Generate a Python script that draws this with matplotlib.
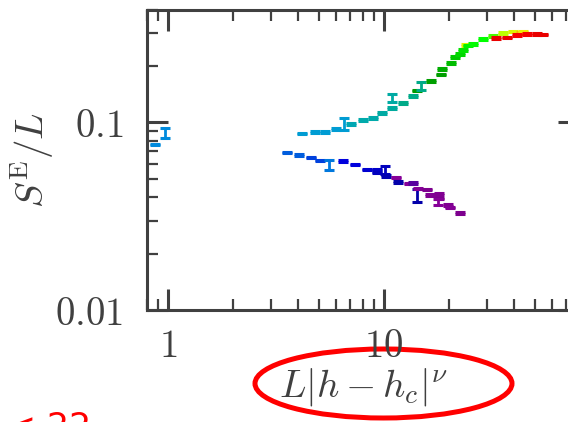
import matplotlib
matplotlib.use("Agg")
import matplotlib.pyplot as plt
from matplotlib.patches import Ellipse
from matplotlib.ticker import LogLocator, NullFormatter

plt.rcParams['mathtext.fontset'] = 'cm'

# upper branch (x, S/L, relative error, colour value)
x_up = [4.19, 4.80, 5.33, 5.97, 6.55, 7.01, 7.96, 8.93, 9.76, 10.9, 10.9, 12.2,
        13.6, 14.2, 14.9, 16.6, 18.4, 18.5, 20.4, 21.3, 22.5, 23.3, 24.0, 24.6,
        25.9, 28.8, 32.1, 35.7, 39.7, 43.0, 44.2,
        33.2, 37.0, 41.1, 45.8, 50.9, 54.6]
y_up = [0.0871, 0.0888, 0.0888, 0.0925, 0.0984, 0.0984, 0.1033, 0.1054, 0.112, 0.119, 0.1345, 0.1267,
        0.138, 0.148, 0.157, 0.166, 0.180, 0.193, 0.208, 0.223, 0.232, 0.244, 0.258, 0.257,
        0.262, 0.279, 0.290, 0.300, 0.305, 0.300, 0.306,
        0.282, 0.284, 0.293, 0.297, 0.297, 0.294]
e_up = [0.010, 0.010, 0.010, 0.010, 0.072, 0.010, 0.010, 0.010, 0.010, 0.010, 0.05, 0.010,
        0.010, 0.010, 0.05, 0.010, 0.010, 0.010, 0.010, 0.010, 0.010, 0.010, 0.010, 0.010,
        0.010, 0.010, 0.010, 0.010, 0.010, 0.010, 0.010,
        0.010, 0.010, 0.010, 0.010, 0.010, 0.010]
c_up = [0.31, 0.31, 0.31, 0.31, 0.31, 0.34, 0.35, 0.35, 0.36, 0.37, 0.36, 0.40,
        0.40, 0.45, 0.40, 0.46, 0.46, 0.48, 0.50, 0.52, 0.54, 0.56, 0.68, 0.58,
        0.59, 0.60, 0.62, 0.65, 0.68, 0.78, 0.70,
        0.88, 0.88, 0.86, 0.86, 0.88, 0.88]

# lower branch
x_lo = [3.54, 4.05, 4.58, 5.06, 5.58, 6.44, 7.34, 8.32, 9.25, 10.1, 9.3, 10.2,
        11.4, 11.6, 13.0, 13.7, 14.2, 14.4, 15.8, 16.3, 18.0, 18.0, 17.8, 19.9,
        20.2, 22.6]
y_lo = [0.0690, 0.0673, 0.0649, 0.0628, 0.0596, 0.0622, 0.0598, 0.0562, 0.0560, 0.0556, 0.0540, 0.0518,
        0.0508, 0.0481, 0.0472, 0.0475, 0.0409, 0.0444, 0.0438, 0.0409, 0.0414, 0.0393, 0.0377, 0.0362,
        0.0352, 0.0329]
e_lo = [0.010, 0.010, 0.010, 0.010, 0.06, 0.010, 0.010, 0.010, 0.010, 0.05, 0.010, 0.010,
        0.010, 0.010, 0.010, 0.010, 0.075, 0.010, 0.010, 0.010, 0.010, 0.010, 0.035, 0.010,
        0.010, 0.010]
c_lo = [0.24, 0.24, 0.23, 0.23, 0.25, 0.20, 0.20, 0.19, 0.18, 0.17, 0.17, 0.16,
        0.10, 0.15, 0.10, 0.12, 0.15, 0.09, 0.07, 0.08, 0.08, 0.07, 0.10, 0.08,
        0.09, 0.07]

# points near x = 1
x_left = [0.871, 0.969]
y_left = [0.0763, 0.0877]
e_left = [0.010, 0.06]
c_left = [0.28, 0.28]

xtick_vals = [1, 10]
xtick_labels = ['$1$', '$10$']
ytick_vals = [0.01, 0.1]
ytick_labels = ['$0.01$', '$0.1$']

grey = '#404040'
cmap = plt.get_cmap('nipy_spectral')

fig = plt.figure(figsize=(5.68, 4.22), dpi=100)
ax = fig.add_axes([147 / 568, 1 - 310 / 422, 432 / 568, 300.5 / 422])

for xs, ys, es, cs in [(x_left, y_left, e_left, c_left),
                       (x_lo, y_lo, e_lo, c_lo),
                       (x_up, y_up, e_up, c_up)]:
    for x, y, e, c in zip(xs, ys, es, cs):
        ax.errorbar([x], [y], yerr=[y * e], fmt='none', ecolor=cmap(c),
                    elinewidth=2.0, capsize=3.6, capthick=2.2)

ax.set_xscale('log')
ax.set_yscale('log')
ax.set_xlim(0.8, 80)
ax.set_ylim(0.01, 0.4)

ax.set_xticks(xtick_vals, labels=xtick_labels)
ax.set_yticks(ytick_vals, labels=ytick_labels)
for axis in (ax.xaxis, ax.yaxis):
    axis.set_minor_locator(LogLocator(base=10, subs=range(2, 10), numticks=20))
    axis.set_minor_formatter(NullFormatter())

ax.tick_params(which='both', direction='in', top=True, right=True,
               colors=grey, labelsize=28)
ax.tick_params(which='major', length=15, width=2.2)
ax.tick_params(which='minor', length=8, width=1.6)
ax.tick_params(axis='y', pad=17)
ax.tick_params(axis='x', pad=12)
for sp in ax.spines.values():
    sp.set_color(grey)
    sp.set_linewidth(2.2)

ax.set_xlabel(r'$L|h-h_c|^{\nu}$', fontsize=28, color=grey)
ax.set_ylabel(r'$S^{\mathrm{E}}/L$', fontsize=28, color=grey)
ax.xaxis.set_label_coords(0.5, -0.185)
ax.yaxis.set_label_coords(-0.21, 0.5)

# red annotation around the x label
fig.add_artist(Ellipse((383.5 / 568, 1 - 383.5 / 422), 257 / 568, 69 / 422,
                       transform=fig.transFigure, fill=False,
                       edgecolor='red', lw=3.6, zorder=-1))
fig.text(7 / 568, 1 - 438 / 422, '< 22', color='red', fontsize=25,
         family='DejaVu Sans', va='baseline')

fig.savefig('out.png', dpi=100)
plt.close(fig)
